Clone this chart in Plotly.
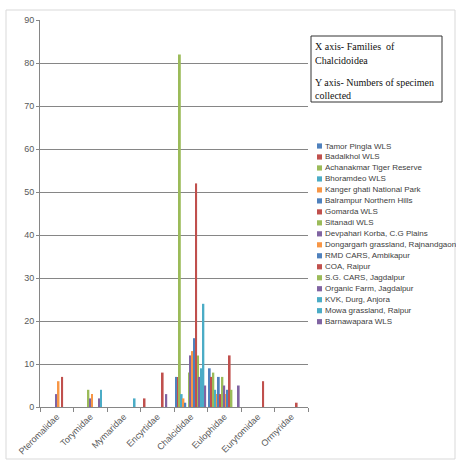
import plotly.graph_objects as go

families = ["Pteromalidae", "Torymidae", "Mymaridae", "Encyrtidae",
            "Chalcididae", "Eulophidae", "Eurytomidae", "Ormyridae"]

series_names = ["Tamor Pingla WLS", "Badalkhol WLS", "Achanakmar Tiger Reserve",
                "Bhoramdeo WLS", "Kanger ghati National Park", "Balrampur Northern Hills",
                "Gomarda WLS", "Sitanadi WLS", "Devpahari Korba, C.G Plains",
                "Dongargarh grassland, Rajnandgaon", "RMD CARS, Ambikapur", "COA, Raipur",
                "S.G. CARS, Jagdalpur", "Organic Farm, Jagdalpur", "KVK, Durg, Anjora",
                "Mowa grassland, Raipur", "Barnawapara WLS"]

tamor_pingla = [0, 0, 0, 0, 7, 9, 0, 0]
badalkhol = [0, 0, 0, 2, 7, 7, 0, 0]
achanakmar = [0, 0, 0, 0, 82, 8, 0, 0]
bhoramdeo = [0, 0, 0, 0, 3, 4, 0, 0]
kanger_ghati = [0, 0, 0, 0, 2, 3, 0, 0]
balrampur = [0, 0, 0, 0, 1, 7, 0, 0]
gomarda = [0, 0, 0, 0, 0, 3, 0, 0]
sitanadi = [0, 4, 0, 0, 8, 7, 0, 0]
devpahari = [3, 2, 0, 0, 12, 5, 0, 0]
dongargarh = [6, 3, 0, 0, 13, 3, 0, 0]
rmd_cars = [0, 0, 0, 0, 16, 4, 0, 0]
coa_raipur = [7, 0, 0, 8, 52, 12, 6, 1]
sg_cars = [0, 0, 0, 0, 12, 4, 0, 0]
organic_farm = [0, 2, 0, 3, 7, 0, 0, 0]
kvk_durg = [0, 4, 2, 0, 9, 0, 0, 0]
mowa = [0, 0, 0, 0, 24, 0, 0, 0]
barnawapara = [0, 0, 0, 0, 5, 5, 0, 0]

series_values = [tamor_pingla, badalkhol, achanakmar, bhoramdeo, kanger_ghati,
                 balrampur, gomarda, sitanadi, devpahari, dongargarh, rmd_cars,
                 coa_raipur, sg_cars, organic_farm, kvk_durg, mowa, barnawapara]

BLUE, RED, GREEN, AQUA, ORANGE, PURPLE = "#4F81BD", "#C0504D", "#9BBB59", "#4BACC6", "#F79646", "#8064A2"
colors = [BLUE, RED, GREEN, AQUA, ORANGE, BLUE, RED, GREEN, PURPLE, ORANGE,
          BLUE, RED, GREEN, PURPLE, AQUA, AQUA, PURPLE]

W, H = 456, 460
L, T, R, B = 40, 20, 308, 407


def px(x):
    return (x - L) / (R - L)


def py(y):
    return (B - y) / (B - T)


fig = go.Figure()
for name, vals, col in zip(series_names, series_values, colors):
    fig.add_trace(go.Bar(x=families, y=vals, name=name, marker_color=col,
                         marker_line_width=0, showlegend=False))

shapes = []
annotations = []

# outer chart border
shapes.append(dict(type="rect", xref="paper", yref="paper",
                   x0=px(6), x1=px(455), y0=py(10), y1=py(459),
                   line=dict(color="#D9D9D9", width=1), fillcolor="rgba(0,0,0,0)", layer="below"))

# custom legend
for i, (name, col) in enumerate(zip(series_names, colors)):
    yc = 146 + 10.98 * i
    shapes.append(dict(type="rect", xref="paper", yref="paper",
                       x0=px(317), x1=px(322), y0=py(yc + 2.6), y1=py(yc - 2.6),
                       line=dict(width=0), fillcolor=col))
    annotations.append(dict(xref="paper", yref="paper", x=px(322.5), y=py(yc),
                            xanchor="left", yanchor="middle", showarrow=False,
                            text=name, font=dict(family="Liberation Sans", size=8, color="#404040")))

# note box
shapes.append(dict(type="rect", xref="paper", yref="paper",
                   x0=px(311), x1=px(442), y0=py(36), y1=py(102),
                   line=dict(color="#333333", width=1), fillcolor="white"))
note_lines = [("X axis- Families  of", 46), ("Chalcidoidea", 60),
              ("Y axis- Numbers of specimen", 82), ("collected", 95)]
for txt, yy in note_lines:
    annotations.append(dict(xref="paper", yref="paper", x=px(312.5), y=py(yy),
                            xanchor="left", yanchor="middle", showarrow=False,
                            text=txt, font=dict(family="Liberation Serif", size=10, color="#111111")))

fig.update_layout(
    width=W, height=H,
    margin=dict(l=L, r=W - R, t=T, b=H - B, pad=0),
    paper_bgcolor="white", plot_bgcolor="white",
    barmode="group", bargap=0.081, bargroupgap=0,
    shapes=shapes, annotations=annotations,
    font=dict(family="Liberation Sans", size=9, color="#595959"),
)
fig.update_xaxes(
    type="category", tickangle=-45, tickson="boundaries",
    ticks="outside", ticklen=4, tickcolor="#868686",
    showline=True, linecolor="#868686", linewidth=1,
    showgrid=False, tickfont=dict(size=9, color="#595959"),
    automargin=False,
)
fig.update_yaxes(
    range=[0, 90], dtick=10, tick0=0,
    ticks="outside", ticklen=3, tickcolor="#868686",
    showline=True, linecolor="#868686", linewidth=1,
    showgrid=True, gridcolor="#868686", gridwidth=1,
    zeroline=False, tickfont=dict(size=9, color="#595959"),
    automargin=False,
)

fig.write_html("out.html",
               config={"displayModeBar": False},
               post_script="document.body.style.margin='0';document.body.style.overflow='hidden';")
